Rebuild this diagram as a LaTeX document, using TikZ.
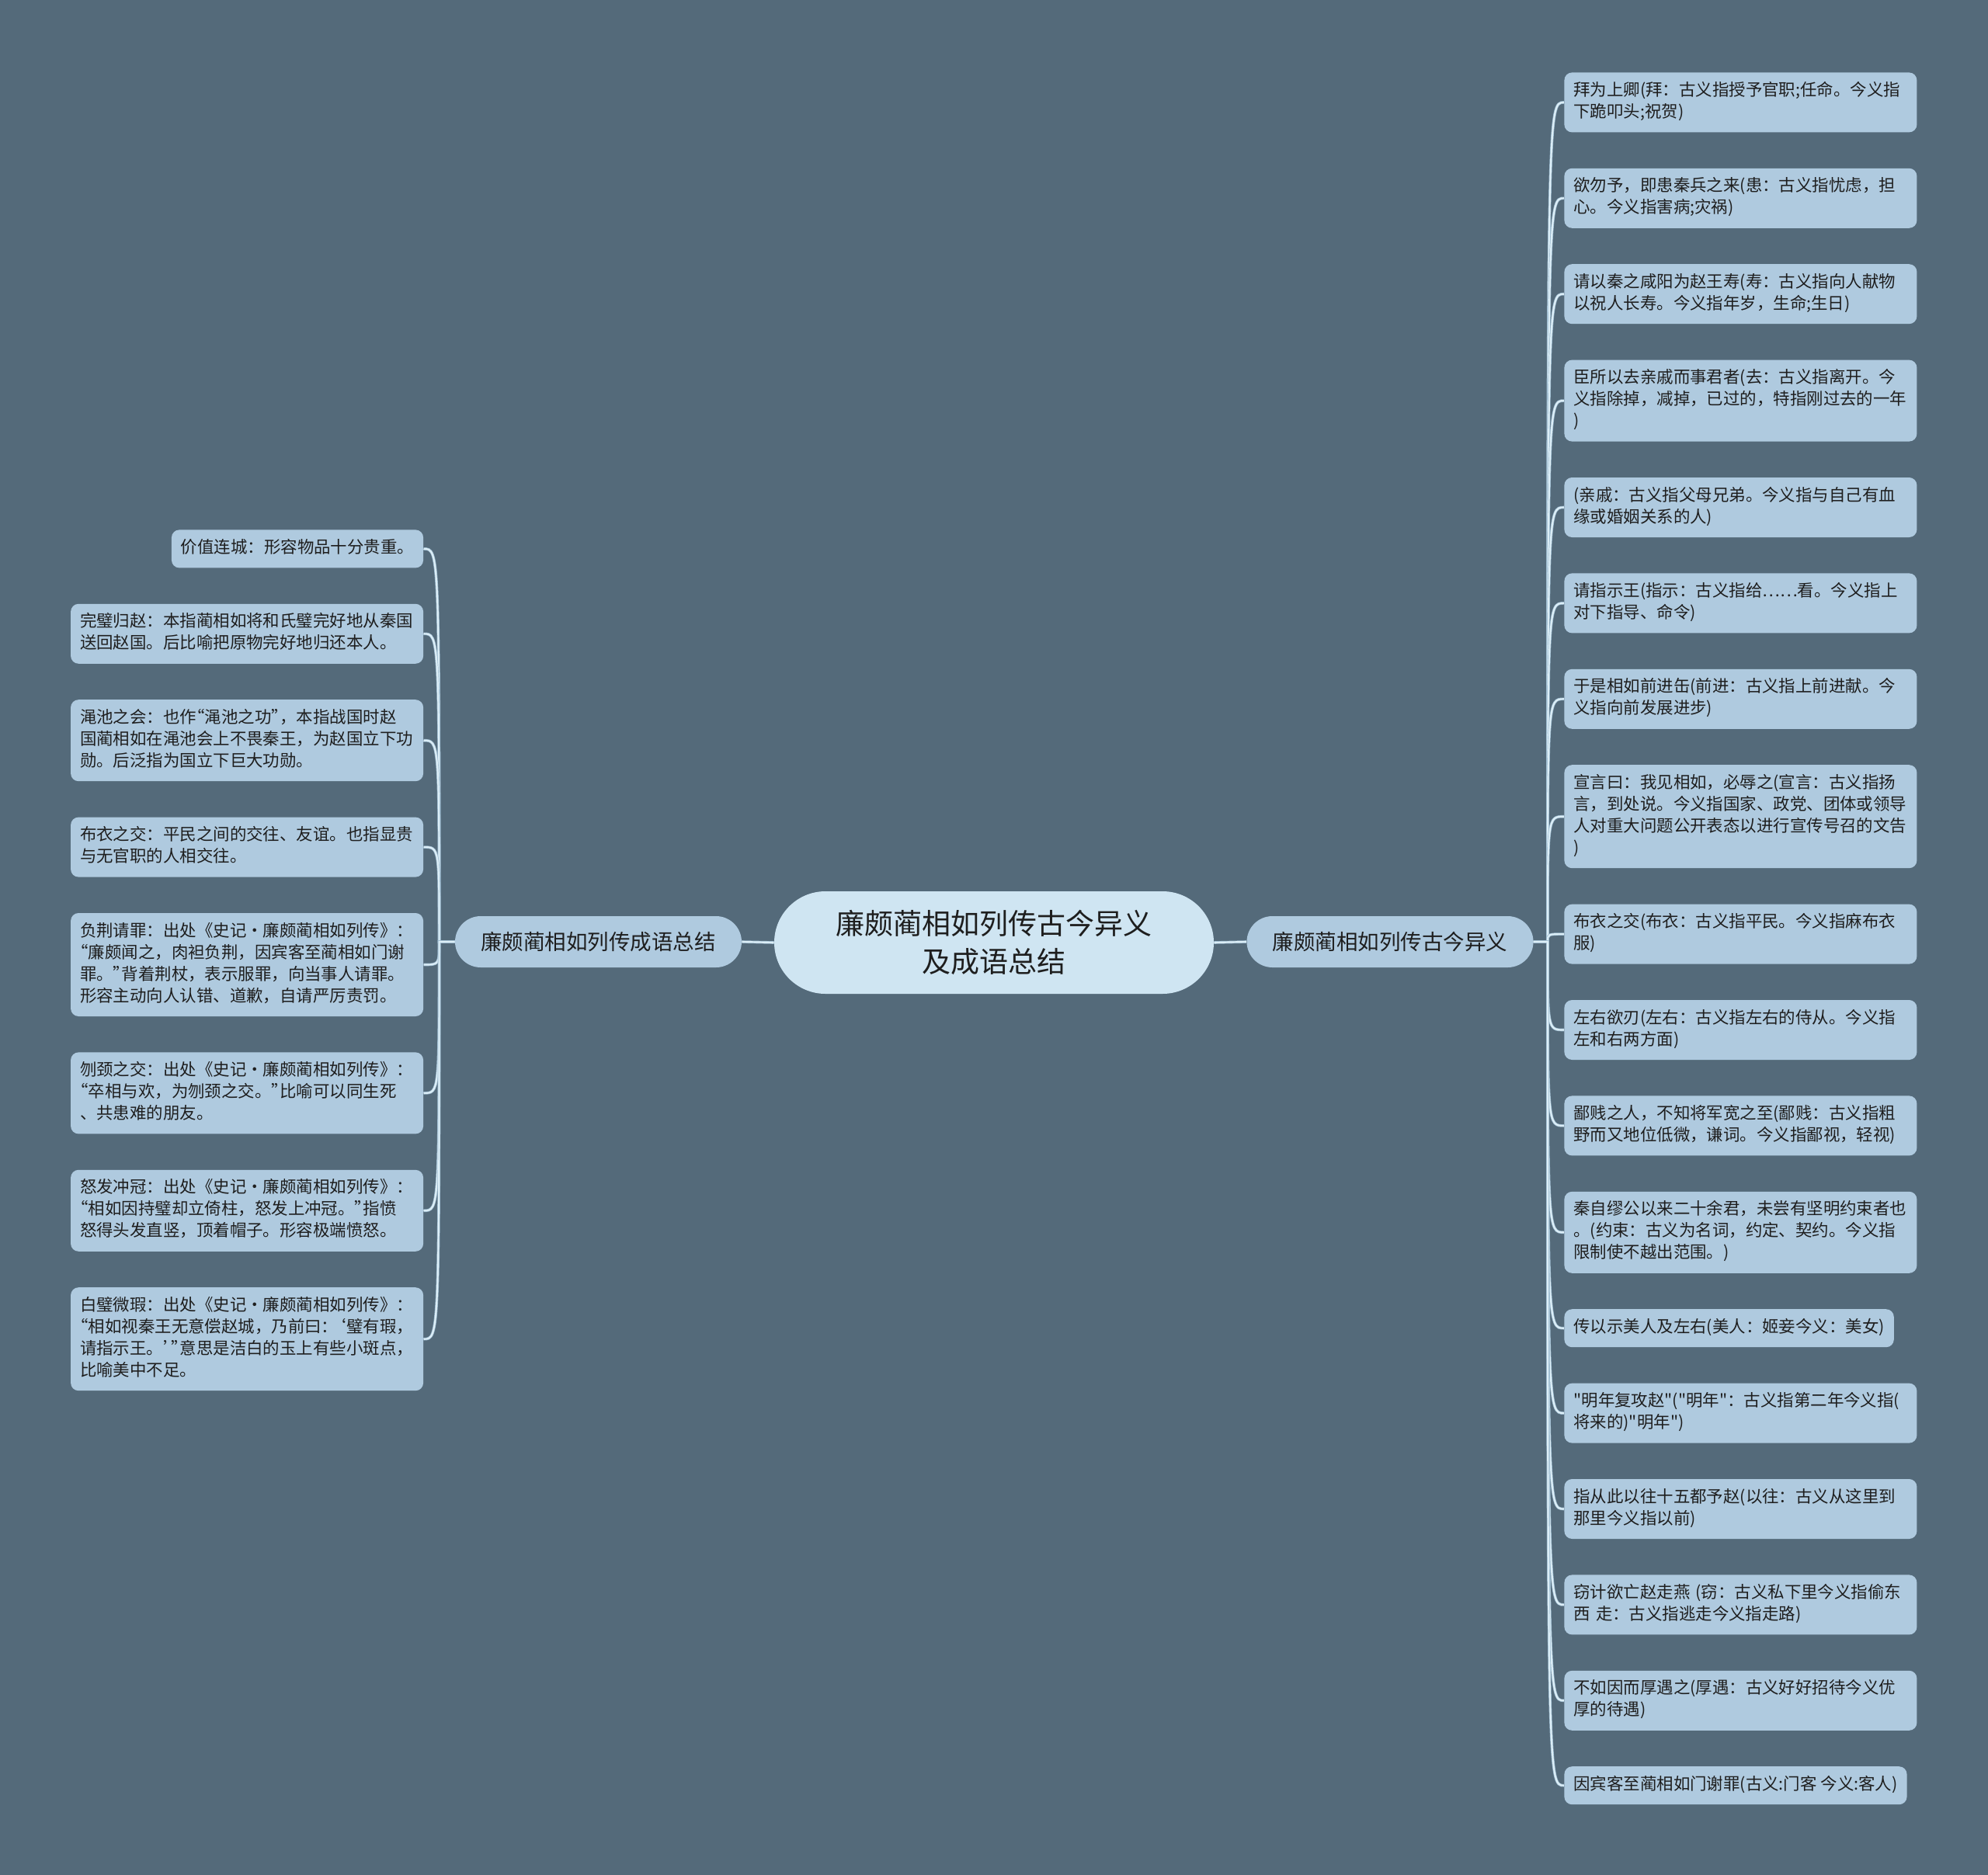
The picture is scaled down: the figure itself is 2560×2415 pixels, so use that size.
\documentclass[tikz,border=0pt]{standalone}
\usepackage{fontspec}
\newfontfamily\cjk{Noto Sans CJK SC}
\newfontfamily\qf{Noto Sans CJK SC}[RawFeature=+palt]
\usetikzlibrary{positioning}
\definecolor{bgcol}{HTML}{546A7A}
\definecolor{leafcol}{HTML}{AFCADF}
\definecolor{rootcol}{HTML}{CFE5F2}
\definecolor{linkcol}{HTML}{DCEEF7}
\definecolor{linkedge}{HTML}{9DBBD0}
\definecolor{txtcol}{HTML}{1E1E1E}

\begin{document}
\begin{tikzpicture}[
  x=0.5pt, y=-0.5pt,
  node distance=22.8pt,
  root/.style={fill=rootcol, rounded corners=33pt, minimum width=283pt, minimum height=66pt, align=center, text=txtcol, font=\cjk\fontsize{18.5}{24.5}\selectfont},
  branch/.style={fill=leafcol, rounded corners=16.5pt, minimum width=184.5pt, minimum height=33pt, text=txtcol, font=\cjk\fontsize{13.75}{16}\selectfont},
  note/.style={fill=leafcol, rounded corners=5pt, inner xsep=6pt, inner ysep=5.25pt, text=txtcol, font=\cjk\fontsize{10.72}{14}\selectfont, execute at begin node=\strut, execute at end node=\strut},
  leaf/.style={note, text width=215pt, align=left},
  link/.style={draw=linkedge, line width=0.35pt, double=linkcol, double distance=1.1pt}
]
\fill[bgcol] (0,0) rectangle (2560,2415);
\useasboundingbox (0,0) rectangle (2560,2415);

\node[root] (root) at (1280,1214) {廉颇蔺相如列传古今异义\\及成语总结};
\node[branch] (lb) at (770.5,1213) {廉颇蔺相如列传成语总结};
\node[branch] (rb) at (1790,1213) {廉颇蔺相如列传古今异义};

% idioms
\node[note, anchor=north east] (l1) at (545.5,682) {价值连城：形容物品十分贵重。};
\node[leaf, below=of l1.south east, anchor=north east] (l2) {完璧归赵：本指蔺相如将和氏璧完好地从秦国\\送回赵国。后比喻把原物完好地归还本人。};
\node[leaf, below=of l2.south east, anchor=north east] (l3) {渑池之会：也作{\qf “}渑池之功{\qf ”}，本指战国时赵\\国蔺相如在渑池会上不畏秦王，为赵国立下功\\勋。后泛指为国立下巨大功勋。};
\node[leaf, below=of l3.south east, anchor=north east] (l4) {布衣之交：平民之间的交往、友谊。也指显贵\\与无官职的人相交往。};
\node[leaf, below=of l4.south east, anchor=north east] (l5) {负荆请罪：出处《史记·廉颇蔺相如列传》：\\{\qf “}廉颇闻之，肉袒负荆，因宾客至蔺相如门谢\\罪。{\qf ”}背着荆杖，表示服罪，向当事人请罪。\\形容主动向人认错、道歉，自请严厉责罚。};
\node[leaf, below=of l5.south east, anchor=north east] (l6) {刎颈之交：出处《史记·廉颇蔺相如列传》：\\{\qf “}卒相与欢，为刎颈之交。{\qf ”}比喻可以同生死\\、共患难的朋友。};
\node[leaf, below=of l6.south east, anchor=north east] (l7) {怒发冲冠：出处《史记·廉颇蔺相如列传》：\\{\qf “}相如因持璧却立倚柱，怒发上冲冠。{\qf ”}指愤\\怒得头发直竖，顶着帽子。形容极端愤怒。};
\node[leaf, below=of l7.south east, anchor=north east] (l8) {白璧微瑕：出处《史记·廉颇蔺相如列传》：\\{\qf “}相如视秦王无意偿赵城，乃前曰：{\qf ‘}璧有瑕，\\请指示王。{\qf ’”}意思是洁白的玉上有些小斑点，\\比喻美中不足。};

% old and new meanings
\node[leaf, anchor=north west] (r1) at (2014,93) {拜为上卿(拜：古义指授予官职;任命。今义指\\下跪叩头;祝贺)};
\node[leaf, below=of r1.south west, anchor=north west] (r2) {欲勿予，即患秦兵之来(患：古义指忧虑，担\\心。今义指害病;灾祸)};
\node[leaf, below=of r2.south west, anchor=north west] (r3) {请以秦之咸阳为赵王寿(寿：古义指向人献物\\以祝人长寿。今义指年岁，生命;生日)};
\node[leaf, below=of r3.south west, anchor=north west] (r4) {臣所以去亲戚而事君者(去：古义指离开。今\\义指除掉，减掉，已过的，特指刚过去的一年\\)};
\node[leaf, below=of r4.south west, anchor=north west] (r5) {(亲戚：古义指父母兄弟。今义指与自己有血\\缘或婚姻关系的人)};
\node[leaf, below=of r5.south west, anchor=north west] (r6) {请指示王(指示：古义指给……看。今义指上\\对下指导、命令)};
\node[leaf, below=of r6.south west, anchor=north west] (r7) {于是相如前进缶(前进：古义指上前进献。今\\义指向前发展进步)};
\node[leaf, below=of r7.south west, anchor=north west] (r8) {宣言曰：我见相如，必辱之(宣言：古义指扬\\言，到处说。今义指国家、政党、团体或领导\\人对重大问题公开表态以进行宣传号召的文告\\)};
\node[leaf, below=of r8.south west, anchor=north west] (r9) {布衣之交(布衣：古义指平民。今义指麻布衣\\服)};
\node[leaf, below=of r9.south west, anchor=north west] (r10) {左右欲刃(左右：古义指左右的侍从。今义指\\左和右两方面)};
\node[leaf, below=of r10.south west, anchor=north west] (r11) {鄙贱之人，不知将军宽之至(鄙贱：古义指粗\\野而又地位低微，谦词。今义指鄙视，轻视)};
\node[leaf, below=of r11.south west, anchor=north west] (r12) {秦自缪公以来二十余君，未尝有坚明约束者也\\。(约束：古义为名词，约定、契约。今义指\\限制使不越出范围。)};
\node[note, below=of r12.south west, anchor=north west] (r13) {传以示美人及左右(美人：姬妾今义：美女)};
\node[leaf, below=of r13.south west, anchor=north west] (r14) {"明年复攻赵"("明年"：古义指第二年今义指(\\将来的)"明年")};
\node[leaf, below=of r14.south west, anchor=north west] (r15) {指从此以往十五都予赵(以往：古义从这里到\\那里今义指以前)};
\node[leaf, below=of r15.south west, anchor=north west] (r16) {窃计欲亡赵走燕 (窃：古义私下里今义指偷东\\西 走：古义指逃走今义指走路)};
\node[leaf, below=of r16.south west, anchor=north west] (r17) {不如因而厚遇之(厚遇：古义好好招待今义优\\厚的待遇)};
\node[note, below=of r17.south west, anchor=north west] (r18) {因宾客至蔺相如门谢罪(古义:门客 今义:客人)};

\coordinate (lj) at ([xshift=-10pt]lb.west);
\coordinate (rj) at ([xshift=9pt]rb.east);
\draw[link] (root.west) -- (lb.east);
\draw[link] (root.east) -- (rb.west);
\foreach \i in {1,...,8}
  \draw[link] (lb.west) -- (lj) .. controls (lj |- l\i.east) and (lj |- l\i.east) .. (l\i.east);
\foreach \i in {1,...,18}
  \draw[link] (rb.east) -- (rj) .. controls (rj |- r\i.west) and (rj |- r\i.west) .. (r\i.west);
\end{tikzpicture}
\end{document}
